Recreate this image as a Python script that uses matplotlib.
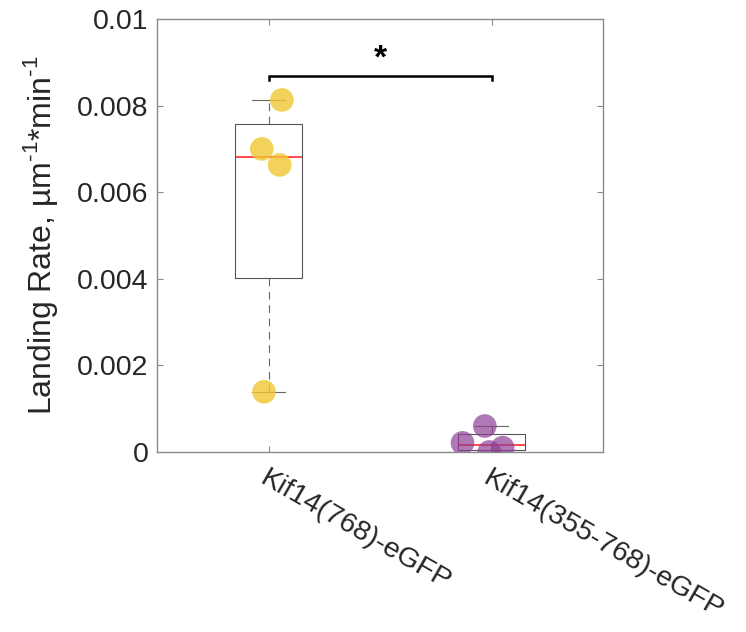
import matplotlib
matplotlib.use("Agg")
import matplotlib.pyplot as plt
import numpy as np

plt.rcParams.update({
    "font.family": ["Liberation Sans", "DejaVu Sans"],
    "mathtext.fontset": "custom",
    "mathtext.rm": "Liberation Sans",
    "xtick.direction": "in",
    "ytick.direction": "in",
})

groups = ["Kif14(768)-eGFP", "Kif14(355-768)-eGFP"]
rates_768 = [0.00813, 0.00700, 0.00663, 0.00139]
rates_355 = [0.00060, 0.00021, 0.00000, 0.00010]
jitter_768 = [0.06, -0.03, 0.05, -0.02]
jitter_355 = [-0.03, -0.13, -0.01, 0.05]
yticks = [0, 0.002, 0.004, 0.006, 0.008, 0.01]
ytick_labels = ["0", "0.002", "0.004", "0.006", "0.008", "0.01"]

TEXT = "#262626"
AXIS = "#8a8a8a"
YELLOW = (0.94, 0.78, 0.2)
PURPLE = (0.55, 0.25, 0.58)


def box_stats(vals, label):
    v = np.asarray(vals)
    q1, med, q3 = np.percentile(v, [25, 50, 75], method="hazen")
    return {"med": med, "q1": q1, "q3": q3, "whislo": v.min(), "whishi": v.max(),
            "fliers": [], "label": label}


fig = plt.figure(figsize=(7.46, 6.32), dpi=100)
ax = fig.add_axes([157 / 746, 1 - 452 / 632, 446 / 746, 433 / 632])

stats = [box_stats(rates_768, groups[0]), box_stats(rates_355, groups[1])]
ax.bxp(stats, positions=[1, 2], widths=0.3, showfliers=False,
       boxprops=dict(color="#555555", linewidth=0.8),
       medianprops=dict(color="#ff2a2a", linewidth=1.2),
       whiskerprops=dict(color="#666666", linewidth=0.8, linestyle=(0, (7, 5))),
       capprops=dict(color="#666666", linewidth=0.8), capwidths=0.15)

ax.scatter(1 + np.array(jitter_768), rates_768, s=290, color=YELLOW, alpha=0.8,
           edgecolors="none", zorder=3)
ax.scatter(2 + np.array(jitter_355), rates_355, s=290, color=PURPLE, alpha=0.7,
           edgecolors="none", zorder=3)

# significance bracket
yb = 0.00868
ax.plot([1, 1, 2, 2], [yb - 0.0001, yb, yb, yb - 0.0001], color="black", linewidth=1.8,
        solid_joinstyle="miter", zorder=4)
ax.text(1.5, yb + 0.00003, "*", ha="center", va="bottom", fontsize=24,
        fontweight="bold", color="black")

ax.set_xlim(0.5, 2.5)
ax.set_ylim(0, 0.01)
ax.set_yticks(yticks)
ax.set_yticklabels(ytick_labels)
ax.set_xticks([1, 2])
ax.set_xticklabels(groups, rotation=-30, ha="left", va="top", rotation_mode="anchor")
ax.tick_params(axis="both", labelsize=20.5, colors=TEXT, length=4, width=0.8, color=AXIS,
               top=True, right=True, pad=6)
ax.tick_params(axis="x", labelsize=20.5, pad=10)
for s in ax.spines.values():
    s.set_color(AXIS)
    s.set_linewidth(1.0)
ax.set_ylabel(r"Landing Rate, µm$^{\mathrm{\text{-}1}}$*min$^{\mathrm{\text{-}1}}$",
              fontsize=23, color=TEXT, labelpad=12)

fig.savefig("out.png", dpi=100)
